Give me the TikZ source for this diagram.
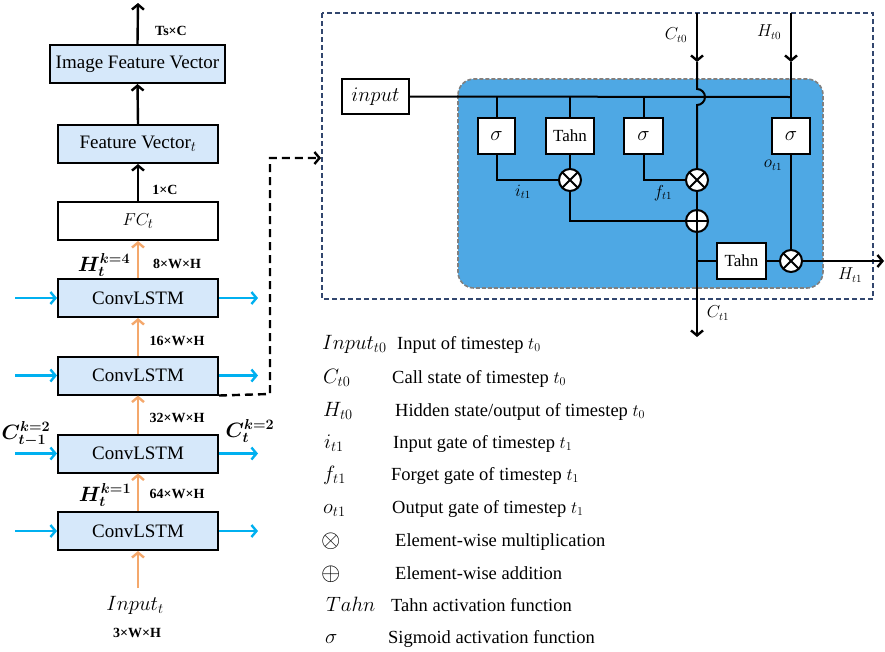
\documentclass[tikz,border=0pt]{standalone}
\usepackage{fontspec}
\setmainfont{Liberation Serif}
\usepackage{amsmath,bm}
\usetikzlibrary{arrows.meta,calc}

\definecolor{boxblue}{RGB}{214,232,250}
\definecolor{cellblue}{RGB}{78,168,228}
\definecolor{flowor}{RGB}{244,168,108}
\definecolor{sideblue}{RGB}{0,176,240}
\definecolor{framenavy}{RGB}{50,70,110}
\definecolor{cellgray}{RGB}{128,128,128}

\tikzset{
  tip/.style={-{Straight Barb[length=5pt,width=12pt]}},
  layer/.style={draw, line width=2pt, fill=boxblue, minimum width=160pt,
    minimum height=38pt, inner sep=0pt, font=\fontsize{19}{21}\selectfont},
  plain/.style={layer, fill=white},
  flow/.style={tip, line width=2.4pt},
  upflow/.style={flow, draw=flowor},
  side/.style={tip, line width=2.4pt, draw=sideblue},
  dimlab/.style={font=\fontsize{14}{16}\selectfont\bfseries, inner sep=0pt},
  bigmath/.style={font=\fontsize{20}{22}\selectfont, inner sep=0pt},
  gate/.style={draw, line width=2pt, fill=white, minimum height=36pt,
    inner sep=0pt, font=\fontsize{17}{19}\selectfont},
  wire/.style={line width=2pt},
  opcirc/.style={circle, draw, line width=2pt, fill=white, minimum size=22pt, inner sep=0pt},
  mult/.style={opcirc, path picture={
      \draw[line width=2pt] (path picture bounding box.south west) -- (path picture bounding box.north east)
        (path picture bounding box.north west) -- (path picture bounding box.south east);}},
  plus/.style={opcirc, path picture={
      \draw[line width=2pt] (path picture bounding box.north) -- (path picture bounding box.south)
        (path picture bounding box.west) -- (path picture bounding box.east);}},
  lab/.style={font=\fontsize{16}{18}\selectfont, inner sep=0pt},
  legkey/.style={anchor=base west, font=\fontsize{21}{23}\selectfont, inner sep=0pt},
  legitem/.style={anchor=base west, font=\fontsize{18.5}{20}\selectfont, inner sep=0pt},
}

\begin{document}
\begin{tikzpicture}[x=1pt, y=-1pt]
\useasboundingbox (0,0) rectangle (885,651);

% ---------------- stacked ConvLSTM encoder ----------------
\node[layer, minimum width=175pt] (ifv) at (137.5,64) {Image Feature Vector};
\node[layer] (fv) at (138,144) {Feature Vector$_t$};
\node[plain] (fc) at (138,221) {$FC_t$};
\node[layer] (cl4) at (138,298) {ConvLSTM};
\node[layer] (cl3) at (138,375.5) {ConvLSTM};
\node[layer] (cl2) at (138,453.5) {ConvLSTM};
\node[layer] (cl1) at (138,531) {ConvLSTM};

\coordinate (out) at (138,3);
\coordinate (inp) at (138,588);

\draw[flow] (ifv.north) -- (out);
\draw[flow] (fv.north) -- (ifv.south);
\draw[flow] (fc.north) -- (fv.south);
\draw[upflow] (cl4.north) -- (fc.south);
\draw[upflow] (cl3.north) -- (cl4.south);
\draw[upflow] (cl2.north) -- (cl3.south);
\draw[upflow] (cl1.north) -- (cl2.south);
\draw[upflow] (inp) -- (cl1.south);

% lateral state arrows
\foreach \c/\y in {cl4/298, cl3/375.5, cl2/453.5, cl1/531}{
  \coordinate (\c-in) at (15,\y);
  \coordinate (\c-out) at (258,\y);
  \draw[side] (\c-in) -- (\c.west);
  \draw[side] (\c.east) -- (\c-out);
}

% dimension labels
\node[dimlab] (d0) at (171,31) {Ts×C};
\node[dimlab] (d1) at (165,190) {1×C};
\node[dimlab] (d2) at (177,264) {8×W×H};
\node[dimlab] (d3) at (177,341) {16×W×H};
\node[dimlab] (d4) at (177,418) {32×W×H};
\node[dimlab] (d5) at (177,494) {64×W×H};
\node[dimlab] (d6) at (137,633) {3×W×H};
\node[bigmath] (h4) at (104,265) {$\bm{H_t^{k=4}}$};
\node[bigmath] (h1) at (105,495) {$\bm{H_t^{k=1}}$};
\node[bigmath] (cprev) at (26,434) {$\bm{C_{t-1}^{k=2}}$};
\node[bigmath] (cnext) at (250,431) {$\bm{C_t^{k=2}}$};
\node[bigmath] (inlab) at (135,605) {$Input_t$};

% zoom link to the cell detail
\coordinate (z1) at (270,394);
\coordinate (z2) at (270,158);
\coordinate (z3) at (321,158);
\draw[tip, line width=2.4pt, dash pattern=on 8pt off 5pt] (cl3.south east) -- (z1) -- (z2) -- (z3);

% ---------------- ConvLSTM cell detail ----------------
\draw[framenavy, line width=1.2pt, dash pattern=on 5pt off 3pt] (322,13) rectangle (873,299);
\draw[cellgray, fill=cellblue, line width=1.6pt, dash pattern=on 4pt off 2pt, rounded corners=16pt]
  (458,79) rectangle (823,288);

\node[gate, font=\fontsize{20}{22}\selectfont, minimum width=67pt, minimum height=35pt] (input) at (375.5,96.5) {$input$};
\node[gate, font=\fontsize{20}{22}\selectfont, minimum width=37pt] (s1) at (496.5,136) {$\sigma$};
\node[gate, minimum width=48pt] (th1) at (570,136) {Tahn};
\node[gate, font=\fontsize{20}{22}\selectfont, minimum width=39pt] (s2) at (643.5,136) {$\sigma$};
\node[gate, font=\fontsize{20}{22}\selectfont, minimum width=38pt] (s3) at (791,136) {$\sigma$};
\node[gate, minimum width=49pt] (th2) at (741.5,261) {Tahn};

\node[mult] (m1) at (570,180) {};
\node[mult] (m2) at (697,180) {};
\node[plus] (p1) at (697,221) {};
\node[mult] (m3) at (791,261) {};

\coordinate (ctop) at (697,13);
\coordinate (cdn) at (697,62);
\coordinate (hopa) at (697,89);
\coordinate (cbot) at (697,337);
\coordinate (htop) at (791,13);
\coordinate (hdn) at (791,62);
\coordinate (hjoin) at (791,97);
\coordinate (hout) at (884,261);
\coordinate (cbr) at (697,261);

% input bus
\draw[wire] (input.east) -- (hjoin);
\draw[wire] (s1.north |- hjoin) -- (s1.north);
\draw[wire] (th1.north |- hjoin) -- (th1.north);
\draw[wire] (s2.north |- hjoin) -- (s2.north);

% cell state path, hopping over the bus
\draw[flow] (ctop) -- (cdn);
\draw[wire] (cdn) -- (hopa) arc[start angle=90, end angle=-90, radius=8pt] -- (m2.north);
\draw[wire] (m2.south) -- (p1.north);
\draw[flow] (p1.south) -- (cbot);

% hidden state path
\draw[flow] (htop) -- (hdn);
\draw[wire] (hdn) -- (s3.north);

% gates
\draw[wire] (s1.south) |- (m1.west);
\draw[wire] (th1.south) -- (m1.north);
\draw[wire] (s2.south) |- (m2.west);
\draw[wire] (m1.south) |- (p1.west);
\draw[wire] (cbr) -- (th2.west);
\draw[wire] (th2.east) -- (m3.west);
\draw[wire] (s3.south) -- (m3.north);
\draw[flow] (m3.east) -- (hout);

% signal labels
\node[lab] (lc0) at (676,35) {$C_{t0}$};
\node[lab] (lh0) at (769,32) {$H_{t0}$};
\node[lab] (li) at (523,192) {$i_{t1}$};
\node[lab] (lf) at (663,193) {$f_{t1}$};
\node[lab] (lo) at (773,165) {$o_{t1}$};
\node[lab] (lh1) at (850,275) {$H_{t1}$};
\node[lab] (lc1) at (718,313) {$C_{t1}$};

% ---------------- legend ----------------
\node[legkey] (k1) at (322,349) {$Input_{t0}$};
\node[legitem] (v1) at (397,349) {Input of timestep $t_0$};
\node[legkey] (k2) at (323,383) {$C_{t0}$};
\node[legitem] (v2) at (392,383) {Call state of timestep $t_0$};
\node[legkey] (k3) at (323,416) {$H_{t0}$};
\node[legitem] (v3) at (395,416) {Hidden state/output of timestep $t_0$};
\node[legkey] (k4) at (324,448) {$i_{t1}$};
\node[legitem] (v4) at (393,448) {Input gate of timestep $t_1$};
\node[legkey] (k5) at (323,480) {$f_{t1}$};
\node[legitem] (v5) at (391,480) {Forget gate of timestep $t_1$};
\node[legkey] (k6) at (323,513) {$o_{t1}$};
\node[legitem] (v6) at (392,513) {Output gate of timestep $t_1$};
\node[legkey, font=\fontsize{26}{28}\selectfont] (k7) at (321,547) {$\otimes$};
\node[legitem] (v7) at (395,546) {Element-wise multiplication};
\node[legkey, font=\fontsize{26}{28}\selectfont] (k8) at (321,580) {$\oplus$};
\node[legitem] (v8) at (395,579) {Element-wise addition};
\node[legkey] (k9) at (326,611) {$Tahn$};
\node[legitem] (v9) at (391,611) {Tahn activation function};
\node[legkey] (k10) at (325,643) {$\sigma$};
\node[legitem] (v10) at (388,643) {Sigmoid activation function};
\end{tikzpicture}
\end{document}
